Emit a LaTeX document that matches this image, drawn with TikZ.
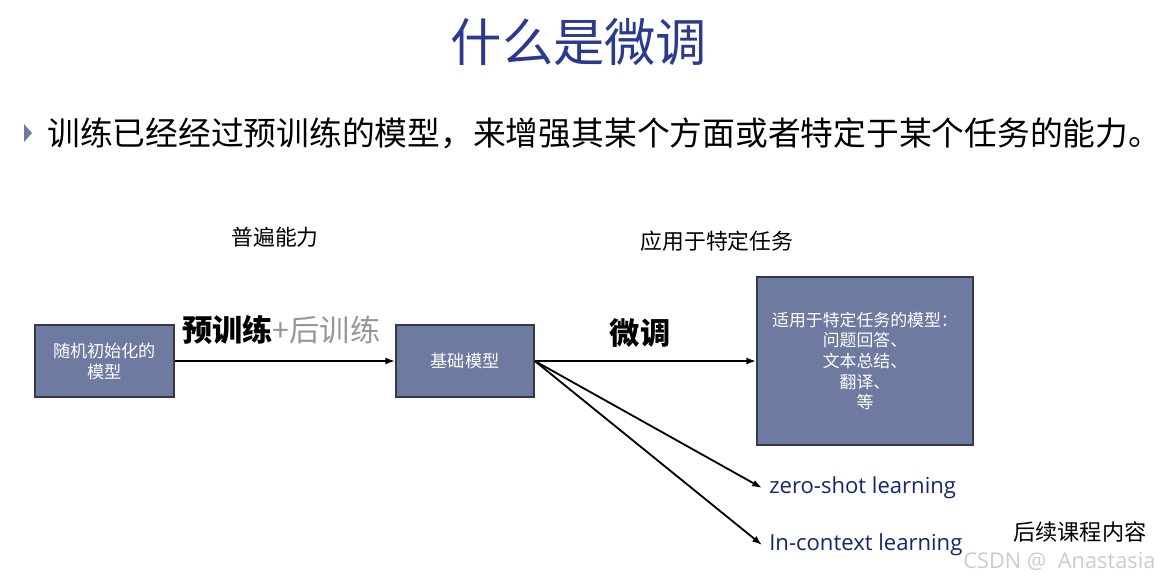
\documentclass[tikz,border=0pt]{standalone}
\usepackage{fontspec}
\setmainfont{Noto Sans CJK SC}
\newfontfamily\latinsans{Open Sans}
\usetikzlibrary{arrows.meta}
\definecolor{boxfill}{RGB}{111,122,160}
\definecolor{boxdraw}{RGB}{55,55,70}
\definecolor{titleblue}{RGB}{43,57,144}
\definecolor{navy}{RGB}{20,40,105}
\definecolor{lightgray}{RGB}{150,150,150}
\tikzset{
  modelbox/.style={draw=boxdraw, line width=1.2pt, fill=boxfill, text=white, align=center, inner sep=0pt, font=\fontsize{12.2}{15}\selectfont},
  conn/.style={line width=1.3pt, -{Latex[length=7pt,width=5pt]}},
  heading/.style={font=\fontsize{15.5}{18}\selectfont, text=black},
  arrowlabel/.style={font=\fontsize{21.5}{24}\selectfont\bfseries, inner sep=0pt},
  learn/.style={font=\fontsize{15.7}{20}\selectfont, text=navy, anchor=west, inner sep=0pt}
}
\begin{document}
\begin{tikzpicture}[x=0.025cm, y=-0.025cm]
\useasboundingbox (0,0) rectangle (1162,580);
% title
\node[font=\fontsize{36.5}{44}\selectfont, text=titleblue] (title) at (579,42) {什么是微调};
% bullet
\fill[boxfill] (24,124) -- (32,133) -- (24,142) -- cycle;
\node[anchor=west, inner sep=0pt, font=\fontsize{23.3}{26}\selectfont] (sub) at (47,133) {训练已经经过预训练的模型，来增强其某个方面或者特定于某个任务的能力。};
% headings
\node[heading] (h1) at (275,237) {普遍能力};
\node[heading] (h2) at (717,241) {应用于特定任务};
% boxes
\node[modelbox, minimum width=139*0.025cm, minimum height=72*0.025cm] (b1) at (104.5,361) {随机初始化的\\模型};
\node[modelbox, minimum width=138*0.025cm, minimum height=72*0.025cm] (b2) at (465,361) {基础模型};
\node[modelbox, minimum width=216*0.025cm, minimum height=168*0.025cm, font=\fontsize{12}{14.6}\selectfont] (b3) at (865,361) {适用于特定任务的模型：\\问题回答、\\文本总结、\\翻译、\\等};
% connectors
\draw[conn] (b1.east) -- (b2.west);
\draw[conn] (b2.east) -- (b3.west |- b2.east);
\coordinate (z) at (762,488);
\coordinate (c) at (762,545);
\draw[conn] (b2.east) -- (z);
\draw[conn] (b2.east) -- (c);
% labels
\node[arrowlabel, anchor=west] (pt) at (182,330) {预训练\textcolor{lightgray}{\mdseries +后训练}};
\node[arrowlabel] (ft) at (640,333) {微调};
\node[learn] (zs) at (769,488) {\latinsans zero-shot learning};
\node[learn] (ic) at (769,545) {\latinsans In-context learning};
\node[anchor=west, inner sep=0pt, font=\fontsize{15.8}{18}\selectfont] (later) at (1013,532) {后续课程内容};
\node[anchor=west, inner sep=0pt, text=black!20, font=\latinsans\fontsize{15.5}{18}\selectfont] (wm) at (963,561) {CSDN @\ \ Anastasia};
\end{tikzpicture}
\end{document}
